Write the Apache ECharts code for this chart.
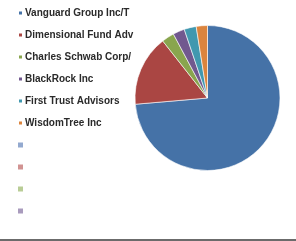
<!DOCTYPE html>
<html>
<head>
<meta charset="utf-8">
<script src="https://cdn.jsdelivr.net/npm/echarts@6/dist/echarts.min.js"></script>
<style>
html, body { margin: 0; padding: 0; background: #fff; }
#main { width: 296px; height: 241px; }
</style>
</head>
<body>
<div id="main"></div>
<script>
var myChart = echarts.init(document.getElementById('main'));

// holders, blank entries at the end show up as empty legend rows
var holders = ['Vanguard Group Inc/T', 'Dimensional Fund Adv', 'Charles Schwab Corp/',
    'BlackRock Inc', 'First Trust Advisors', 'WisdomTree Inc', ' ', '  ', '   ', '    '];
var shares = [73.7, 15.8, 2.8, 2.6, 2.7, 2.5, 0, 0, 0, 0];
var colors = ['#4572A7', '#AA4643', '#89A54E', '#71588F', '#4198AF', '#DB843D',
    '#93A9CF', '#D19392', '#B9CD96', '#A99BBD'];

var pieData = [];
for (var i = 0; i < holders.length; i++) {
    pieData.push({
        name: holders[i],
        value: shares[i],
        itemStyle: { color: colors[i], borderWidth: shares[i] > 0 ? 0.6 : 0 }
    });
}

var option = {
    backgroundColor: '#ffffff',
    animation: false,
    legend: {
        orient: 'vertical',
        left: 17,
        top: 7,
        padding: 0,
        itemWidth: 5,
        itemHeight: 5,
        itemGap: 10,
        icon: 'rect',
        data: holders,
        textStyle: {
            fontFamily: 'Liberation Sans',
            fontSize: 10,
            fontWeight: 'bold',
            color: '#2a2a2a',
            lineHeight: 12,
            padding: [0, 0, 0, -3]
        }
    },
    series: [{
        type: 'pie',
        center: [207.5, 98],
        radius: 72.5,
        startAngle: 90,
        clockwise: true,
        label: { show: false },
        labelLine: { show: false },
        emphasis: { disabled: true },
        itemStyle: { borderColor: '#fff' },
        data: pieData
    }],
    graphic: [{
        type: 'rect',
        shape: { x: 0, y: 239, width: 296, height: 2 },
        style: { fill: '#6b6b6b' }
    }]
};
myChart.setOption(option);
</script>
</body>
</html>
